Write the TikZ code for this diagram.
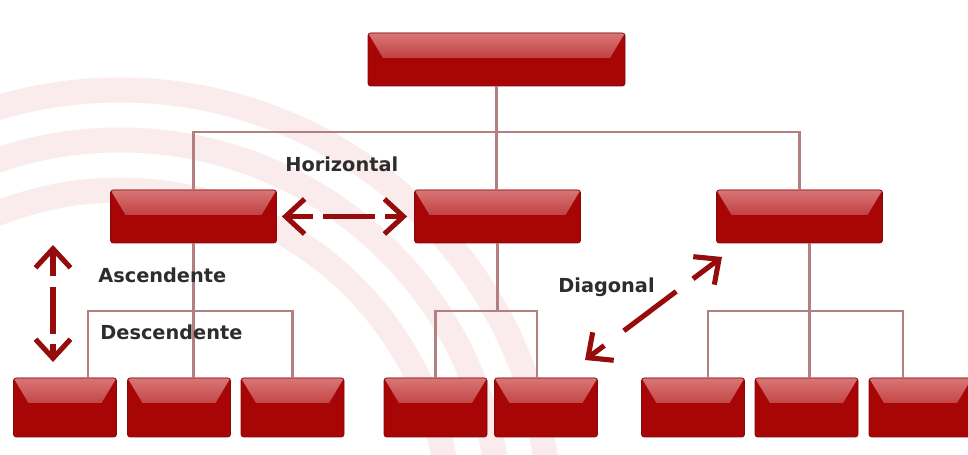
\documentclass[tikz,border=0pt]{standalone}
\usepackage{fontspec}
\setmainfont{DejaVu Sans}
\usetikzlibrary{arrows.meta, calc, positioning}
\definecolor{red1}{RGB}{168,6,6}
\definecolor{red2}{RGB}{216,118,118}
\definecolor{red3}{RGB}{130,10,10}
\definecolor{arrow1}{RGB}{150,12,12}
\definecolor{link1}{RGB}{178,128,128}
\definecolor{arc1}{RGB}{250,236,236}
\definecolor{text1}{RGB}{45,45,45}

\begin{document}
\begin{tikzpicture}[
    box/.style={draw=red3, line width=0.4pt, fill=red1, rounded corners=1.5pt, minimum width=3.32cm, minimum height=1.06cm, inner sep=0pt,
      path picture={
        \shade[sharp corners, top color=red2, bottom color=red1]
          (path picture bounding box.north west) -- (path picture bounding box.north east)
          -- ($(path picture bounding box.north east)+(-0.3,-0.5)$)
          -- ($(path picture bounding box.north west)+(0.3,-0.5)$) -- cycle;
      }},
    smallbox/.style={box, minimum width=2.06cm, minimum height=1.18cm},
    link/.style={draw=link1, line width=1.3pt},
    rel/.style={draw=arrow1, line width=2.9pt, {Straight Barb[length=3.8mm,width=7mm]}-{Straight Barb[length=3.8mm,width=7mm]}},
    lbl/.style={font=\bfseries\fontsize{11}{13}\selectfont, text=text1, anchor=base west, inner sep=0pt}
]
    \clip (0,0) rectangle (19.36,9.1);
    \fill[white] (0,0) rectangle (19.36,9.1);

    % faint arcs in the background
    \foreach \r in {6.6,7.6,8.6}
        \draw[arc1, line width=0.5cm] (2.4,-1.3) ++(0:\r) arc[start angle=0, end angle=180, radius=\r];

    \node[box, name=top, minimum width=5.14cm] at(9.93,7.91) {};

    \node[box, name=l2a] at(3.87,4.77) {};
    \node[box, name=l2b] at(9.95,4.77) {};
    \node[box, name=l2c] at(15.99,4.77) {};

    \node[smallbox, name=b1] at(1.30,0.95) {};
    \node[smallbox, name=b2] at(3.58,0.95) {};
    \node[smallbox, name=b3] at(5.85,0.95) {};
    \node[smallbox, name=b4] at(8.71,0.95) {};
    \node[smallbox, name=b5] at(10.92,0.95) {};
    \node[smallbox, name=b6] at(13.86,0.95) {};
    \node[smallbox, name=b7] at(16.13,0.95) {};
    \node[smallbox, name=b8] at(18.41,0.95) {};

    % tree lines
    \draw[link] (top.south) -- ++(0,-0.92) coordinate (jt);
    \draw[link] (l2a.north) |- (jt) -| (l2c.north);
    \draw[link] (jt) -- (jt |- l2b.north);

    \draw[link] (l2a.south) -- (l2a.south |- b2.north);
    \path (l2a.south) ++(0,-1.36) coordinate (ja);
    \draw[link] ([xshift=4.6mm]b1.north) |- (ja) -| (b3.north);

    \draw[link] (l2b.south) -- ++(0,-1.36) coordinate (jb);
    \draw[link] (b4.north) |- (jb) -| ([xshift=-1.8mm]b5.north);

    \draw[link] ([xshift=2mm]l2c.south) -- ++(0,-1.36) coordinate (jc);
    \draw[link] ([xshift=3mm]b6.north) |- (jc) -| ([xshift=-3.5mm]b8.north);
    \draw[link] (jc) -- (jc |- b7.north);

    % communication arrows
    \coordinate (va) at (1.06,4.2);
    \coordinate (vb) at (1.06,1.86);
    \coordinate (da) at (14.44,3.96);
    \coordinate (db) at (11.70,1.90);

    \draw[rel, shorten <=0.1cm, shorten >=0.14cm, dash pattern=on 0.5cm off 0.2cm on 1.04cm off 0.2cm on 3cm] (l2a.east) -- (l2b.west);
    \draw[rel, dash pattern=on 0.5cm off 0.22cm on 0.94cm off 0.2cm on 3cm] (va) -- (vb);
    \draw[rel, dash pattern=on 0.6cm off 0.42cm on 1.31cm off 0.49cm on 3cm] (da) -- (db);

    \node[lbl, name=hor] at(5.7,5.66) {Horizontal};
    \node[lbl, name=asc] at(1.96,3.44) {Ascendente};
    \node[lbl, name=desc] at(2.0,2.3) {Descendente};
    \node[lbl, name=diag] at(11.16,3.24) {Diagonal};
\end{tikzpicture}
\end{document}
